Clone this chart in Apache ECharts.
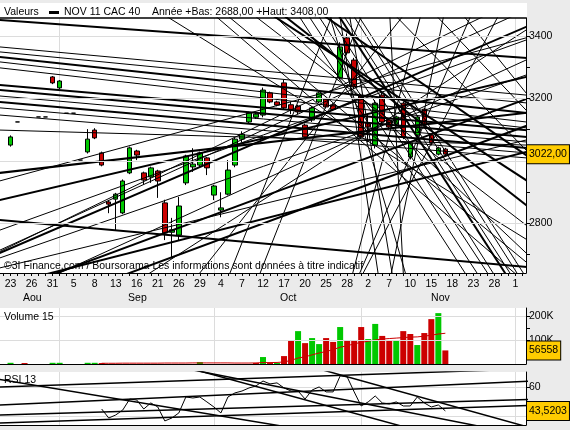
<!DOCTYPE html>
<html>
<head>
<meta charset="utf-8">
<title>NOV 11 CAC 40</title>
<script src="https://cdn.jsdelivr.net/npm/echarts@6/dist/echarts.min.js"></script>
<style>
  html, body { margin: 0; padding: 0; background: #ebebeb; }
  #chart { width: 570px; height: 430px; }
</style>
</head>
<body>
<div id="chart"></div>
<script>
// trading sessions 22 Aug -> 2 Dec 2011 (day of month)
const days = [22,23,24,25,26,29,30,31,1,2,5,6,7,8,9,12,13,14,15,16,19,20,21,22,23,26,27,28,29,30,
  3,4,5,6,7,10,11,12,13,14,17,18,19,20,21,24,25,26,27,28,31,
  1,2,3,4,7,8,9,10,11,14,15,16,17,18,21,22,23,24,25,28,29,30,1,2];
const monthLabels = ['Aou', 'Sep', 'Oct', 'Nov'];
const monthPos = [4.1, 19.1, 40.6, 62.3];
const monthStarts = [8, 30, 51, 73];

// candles (session index, open, close, low, high)
const candleIdx = [1,2,5,6,7,8,9,10,11,12,13,14,15,16,17,18,19,20,21,22,23,24,25,26,27,28,29,30,
  31,32,33,34,35,36,37,38,39,40,41,42,43,44,45,46,47,48,49,50,51,52,53,54,55,56,57,58,59,60,61,62,63];
const open = [3051,3125,3141,3141,3269,3234,3153,3153,3003,3029,3099,3026,2869,2878,2834,2962,3032,2962,2949,2968,
  2866,2772,2763,2930,2981,2987,3010,2891,2843,2894,2987,3070,3125,3140,3147,3218,3189,3250,3180,3176,
  3115,3131,3189,3198,3180,3266,3394,3323,3208,3121,3051,3211,3131,3118,3185,3013,3083,3166,3083,3022,3038];
const close = [3077,3125,3141,3141,3250,3256,3153,3153,3003,3070,3074,2987,2862,2894,2936,3042,3019,2939,2978,2936,
  2770,2780,2856,3016,2990,3026,2978,2920,2850,2971,3070,3086,3154,3150,3227,3189,3179,3170,3165,3157,
  3077,3170,3218,3173,3165,3365,3346,3237,3077,3109,3185,3125,3109,3141,3077,3058,3141,3115,3057,3042,3022];
const low = [3046,3125,3141,3141,3246,3230,3153,3153,3003,3024,3070,2983,2833,2779,2830,2958,3003,2925,2930,2882,
  2747,2688,2745,2923,2965,2980,2955,2875,2820,2890,2980,3060,3120,3135,3140,3185,3175,3165,3150,3150,
  3070,3125,3185,3168,3160,3260,3340,3230,3070,3060,3040,3118,3100,3110,3070,3005,3078,3110,3050,3018,3015];
const high = [3082,3125,3141,3141,3272,3259,3153,3153,3003,3102,3105,3030,2873,2898,2941,3046,3036,2966,2982,2972,
  2876,2818,2885,3020,3041,3030,3013,2924,2900,3003,3074,3095,3158,3155,3235,3222,3193,3260,3190,3180,
  3120,3175,3222,3202,3185,3380,3408,3330,3215,3150,3195,3218,3135,3145,3190,3062,3146,3170,3088,3046,3042];

// volume (session index, contracts, up bar = 1)
const volIdx = [1,3,7,8,12,13,14,28,36,37,38,39,40,41,42,43,44,45,46,47,48,49,50,51,52,53,54,55,56,57,58,59,60,61,62,63];
const volume = [5000,4000,5000,5000,5000,5000,4000,8000,4000,29000,4000,4000,33000,100000,137000,87000,108000,83000,
  108000,92000,154000,100000,100000,154000,104000,167000,117000,96000,100000,137000,125000,79000,129000,187000,212000,56558];
const volUp = [1,0,1,1,1,1,0,1,0,1,0,1,0,0,1,0,1,1,0,0,1,0,0,0,1,1,0,0,1,0,0,1,0,0,1,0];

// 15 sessions volume average, from session 14
const volMaStart = 14;
const volMa = [3000,3000,3000,3500,3500,3500,3500,3500,3500,4000,4000,4000,4000,4500,4500,4500,4500,4500,4500,4000,4000,4000,
  4500,6000,6000,6500,8500,15000,25000,30000,38000,46000,52000,60000,70000,76000,84000,90000,95000,100000,
  104000,106000,108000,110000,112000,113000,116000,120000,125000,128000];

// RSI 13, from session 14
const rsiStart = 14;
const rsi = [44.8,38.6,40.7,44.1,51.7,51.0,44.8,49.0,46.2,36.6,38.6,42.1,53.1,52.4,53.1,49.7,46.2,42.1,53.1,55.9,
  57.2,59.3,60.7,64.1,62.1,62.8,59.3,57.2,57.2,51.7,57.9,60.0,56.6,56.6,67.6,66.9,56.6,46.9,49.7,53.8,
  49.0,48.3,49.7,46.9,46.9,53.1,49.0,46.2,47.6,43.5203];

const priceTicks = [2700,2800,2900,3000,3100,3200,3300,3400];
const priceLabels = [2800,3000,3200,3400];
const volTicks = [50000,100000,150000,200000];
const volLabels = [100000,200000];
const rsiTicks = [40,60];

// trend lines: [session, price, session, price]
const priceLinesThick = [
  [-0.5,3451,74.5,3330],[-0.5,3333,74.5,3154],[-0.5,3243,74.5,3099],[-0.5,3227,74.5,3077],[-0.5,3189,74.5,3042],
  [-0.5,2811,74.5,2661],[-0.5,2962,74.5,3154],[-0.5,2574,74.5,3198],[-0.5,2488,74.5,3112],[-0.5,2600,74.5,3029],
  [-0.5,2706,74.5,3429],[-0.5,2875,74.5,3269],[39.4,3451,74.5,2939],[40.8,3451,74.5,2859],[48.0,3458,71.5,2642],
  [46.6,3451,74.5,3019]
];
const priceLinesThin = [
  [-0.5,3365,74.5,3211],[-0.5,3349,74.5,3186],[-0.5,3317,74.5,3125],[-0.5,3298,74.5,3106],[-0.5,3208,74.5,3061],
  [-0.5,3170,74.5,3026],[-0.5,3147,74.5,3010],[-0.5,3099,74.5,3051],[-0.5,2779,74.5,3387],[-0.5,2715,74.5,3483],
  [-0.5,2690,74.5,3275],[-0.5,2658,74.5,3067],[8.0,2642,74.5,3323],[20.9,2642,74.5,3419],[28.0,2642,56.5,3451],
  [32.3,2642,46.6,3451],[36.6,2642,50.8,3451],[24.1,3451,74.5,2750],[30.9,3451,74.5,2610],[32.7,3451,74.5,2677],
  [36.6,3451,74.5,2795],[42.3,3458,65.8,2642],[43.7,3458,67.5,2642],[45.1,3458,69.0,2642],[46.6,3458,69.8,2642],
  [48.7,3458,72.2,2642],[50.1,3458,73.2,2642],[50.8,3458,74.1,2642],[42.3,3387,74.5,2706],[48.0,3458,53.4,2642],
  [49.4,3458,55.4,2642],[46.6,3458,57.3,2642],[70.4,3458,51.3,2642],[62.7,3458,55.3,2642],[59.4,3458,49.8,2642],
  [66.5,3458,50.8,2642],[55.1,3458,57.0,2642],[62.3,3451,74.5,3163],[66.1,3451,74.5,3218],[56.5,3451,74.5,3035],
  [20.9,3067,74.5,3394],[35.1,3099,68.0,3458]
];
const rsiLines = [
  [-0.1,64.8,37.0,35.2],[-0.1,60,58.4,69.7],[-0.1,47.6,72.7,63.4],[-0.1,40.7,72.7,51.0],[-0.1,35.2,72.7,46.9],
  [29.1,69.7,40.8,58.6],[47.0,69.7,72.7,35.2],[39.4,55.9,55.1,35.2]
];

const FONT = 'Liberation Sans, Arial, sans-serif';
const GREEN = '#00c800';
const RED = '#cc0000';
const GRID = '#dcdcdc';
const txt = { color: '#000', fontSize: 10.5, fontFamily: FONT };

function comma(v, n) {
  return v.toFixed(n).replace('.', ',');
}

// prolong a trend line through two points across the whole chart
function extendLine(l, x0, x1) {
  const k = (l[3] - l[1]) / (l[2] - l[0]);
  return [[x0, l[1] + k * (x0 - l[0])], [x1, l[1] + k * (x1 - l[0])]];
}

function trendSeries(l, width, xi, yi) {
  return {
    type: 'line', xAxisIndex: xi, yAxisIndex: yi,
    data: extendLine(l, -2, 77),
    symbol: 'none', silent: true, z: 3,
    lineStyle: { color: '#000', width: width }
  };
}

// horizontal grid lines drawn behind the marks
function gridLines(values, xi, yi) {
  return {
    type: 'line', xAxisIndex: xi, yAxisIndex: yi, data: [], z: 1, silent: true,
    markLine: {
      symbol: 'none', silent: true, label: { show: false },
      lineStyle: { color: GRID, type: 'solid', width: 1 },
      data: values.map(v => ({ yAxis: v }))
    }
  };
}

const chart = echarts.init(document.getElementById('chart'));

const sessionAxis = (gridIndex) => ({
  type: 'value', gridIndex: gridIndex, min: -0.5, max: 74.5,
  axisLine: { show: true, onZero: false, lineStyle: { color: '#000' } },
  axisTick: { show: false, customValues: monthStarts },
  axisLabel: { show: false },
  splitLine: { show: true, lineStyle: { color: GRID } }
});

const candles = candleIdx.map((d, k) => [d, open[k], close[k], low[k], high[k]]);
const yearLow = Math.min(...low);
const yearHigh = Math.max(...high);

const option = {
  animation: false,
  backgroundColor: '#ebebeb',
  title: [
    { text: 'Valeurs', left: 4, top: 7, padding: 0, textStyle: { ...txt, fontWeight: 'normal' } },
    {
      text: '{bar|}{gap|}NOV 11 CAC 40', left: 49, top: 7, padding: 0,
      textStyle: {
        ...txt, fontWeight: 'normal',
        rich: {
          bar: { width: 10, height: 3, backgroundColor: '#000' },
          gap: { width: 5 }
        }
      }
    },
    {
      text: 'Année +Bas: ' + comma(yearLow, 2) + ' +Haut: ' + comma(yearHigh, 2),
      left: 152, top: 7, padding: 0, textStyle: { ...txt, fontWeight: 'normal' }
    },
    {
      text: '©3I Finance.com / Boursorama Les informations sont données à titre indicatif',
      left: 4, top: 261, padding: 0, z: 1, textStyle: { ...txt, fontWeight: 'normal' }
    },
    { text: 'Volume 15', left: 4, top: 312, padding: 0, textStyle: { ...txt, fontWeight: 'normal' } },
    { text: 'RSI 13', left: 4, top: 375, padding: 0, textStyle: { ...txt, fontWeight: 'normal' } }
  ],
  grid: [
    { left: 0, top: 18, width: 526, height: 255, show: true, backgroundColor: '#fff', borderWidth: 0 },
    { left: 0, top: 308, width: 526, height: 56, show: true, backgroundColor: '#fff', borderWidth: 0 },
    { left: 0, top: 372, width: 526, height: 53, show: true, backgroundColor: '#fff', borderWidth: 0 }
  ],
  xAxis: [
    {
      type: 'value', gridIndex: 0, min: -0.5, max: 74.5, position: 'bottom',
      axisLine: { onZero: false, lineStyle: { color: '#000' } },
      axisTick: { customValues: days.map((d, k) => k), length: 3, lineStyle: { color: '#000' } },
      axisLabel: { ...txt, customValues: days.map((d, k) => k).filter(k => k % 3 === 1), margin: 6, formatter: v => String(days[v]) },
      splitLine: { show: false }
    },
    {
      type: 'value', gridIndex: 0, min: -0.5, max: 74.5, position: 'bottom', offset: 14,
      axisLine: { show: false, onZero: false },
      axisTick: { show: false, customValues: monthStarts },
      axisLabel: {
        ...txt, customValues: monthPos, margin: 6,
        formatter: v => {
          let best = 0;
          monthPos.forEach((p, k) => { if (Math.abs(p - v) < Math.abs(monthPos[best] - v)) best = k; });
          return monthLabels[best];
        }
      },
      splitLine: { show: true, lineStyle: { color: GRID } }
    },
    {
      type: 'value', gridIndex: 0, min: -0.5, max: 74.5, position: 'top',
      axisLine: { show: true, onZero: false, lineStyle: { color: '#000', width: 1.5 } },
      axisTick: { show: false }, axisLabel: { show: false }, splitLine: { show: false }
    },
    sessionAxis(1),
    sessionAxis(2)
  ],
  yAxis: [
    {
      type: 'value', gridIndex: 0, position: 'right', min: 2641.6, max: 3457.6,
      axisLine: { show: true, onZero: false, lineStyle: { color: '#000' } },
      axisTick: { show: true, customValues: priceTicks, length: 4, lineStyle: { color: '#000' } },
      axisLabel: { ...txt, customValues: priceLabels, margin: 3, formatter: v => String(v) },
      splitLine: { show: false }
    },
    {
      type: 'value', gridIndex: 1, position: 'right', min: 0, max: 233333,
      axisLine: { show: true, onZero: false, lineStyle: { color: '#000' } },
      axisTick: { show: true, customValues: volTicks, length: 4, lineStyle: { color: '#000' } },
      axisLabel: { ...txt, customValues: volLabels, margin: 3, formatter: v => (v / 1000) + 'K' },
      splitLine: { show: false }
    },
    {
      type: 'value', gridIndex: 2, position: 'right', min: 33.8, max: 70.3,
      axisLine: { show: true, onZero: false, lineStyle: { color: '#000' } },
      axisTick: { show: true, customValues: rsiTicks, length: 4, lineStyle: { color: '#000' } },
      axisLabel: { ...txt, customValues: rsiTicks, margin: 3, formatter: v => String(v) },
      splitLine: { show: true, lineStyle: { color: GRID } }
    }
  ],
  series: [
    gridLines(priceLabels, 0, 0),
    gridLines(volLabels, 3, 1),
    {
      type: 'candlestick', xAxisIndex: 0, yAxisIndex: 0,
      data: candles, barWidth: 5, z: 2,
      itemStyle: {
        color: GREEN, color0: RED,
        borderColor: '#000', borderColor0: '#000', borderColorDoji: '#000', borderWidth: 1
      }
    },
    ...priceLinesThick.map(l => trendSeries(l, 2, 0, 0)),
    ...priceLinesThin.map(l => trendSeries(l, 1, 0, 0)),
    {
      type: 'bar', xAxisIndex: 3, yAxisIndex: 1, barWidth: 6,
      data: volIdx.map((d, k) => ({ value: [d, volume[k]], itemStyle: { color: volUp[k] ? GREEN : RED } }))
    },
    {
      type: 'line', xAxisIndex: 3, yAxisIndex: 1, symbol: 'none', silent: true, z: 3,
      data: volMa.map((v, k) => [volMaStart + k, v]),
      lineStyle: { color: RED, width: 1 }
    },
    {
      type: 'line', xAxisIndex: 4, yAxisIndex: 2, symbol: 'none', silent: true, z: 3,
      data: rsi.map((v, k) => [rsiStart + k, v]),
      lineStyle: { color: '#000', width: 1 }
    },
    ...rsiLines.map(l => trendSeries(l, 1.5, 4, 2))
  ]
};

chart.setOption(option);

// last value tags on the right axes
function tag(text, xi, yi, value) {
  const p = chart.convertToPixel({ xAxisIndex: xi, yAxisIndex: yi }, [74.5, value]);
  return {
    type: 'text', x: p[0] + 1, y: p[1], z: 100,
    style: {
      text: text, fill: '#000', fontSize: 10.5, fontFamily: FONT,
      align: 'left', verticalAlign: 'middle',
      backgroundColor: '#ffcc00', borderColor: '#000', borderWidth: 1,
      padding: [4, 2, 3, 2]
    }
  };
}

const lastClose = close[close.length - 1];
const lastVol = volume[volume.length - 1];
const lastRsi = rsi[rsi.length - 1];
chart.setOption({
  graphic: [
    { type: 'rect', z: 0, shape: { x: 0, y: 3, width: 527, height: 15 }, style: { fill: '#fff' } },
    tag(comma(lastClose, 2), 0, 0, lastClose),
    tag(String(lastVol), 3, 1, lastVol),
    tag(comma(lastRsi, 4), 4, 2, lastRsi)
  ]
});
</script>
</body>
</html>
